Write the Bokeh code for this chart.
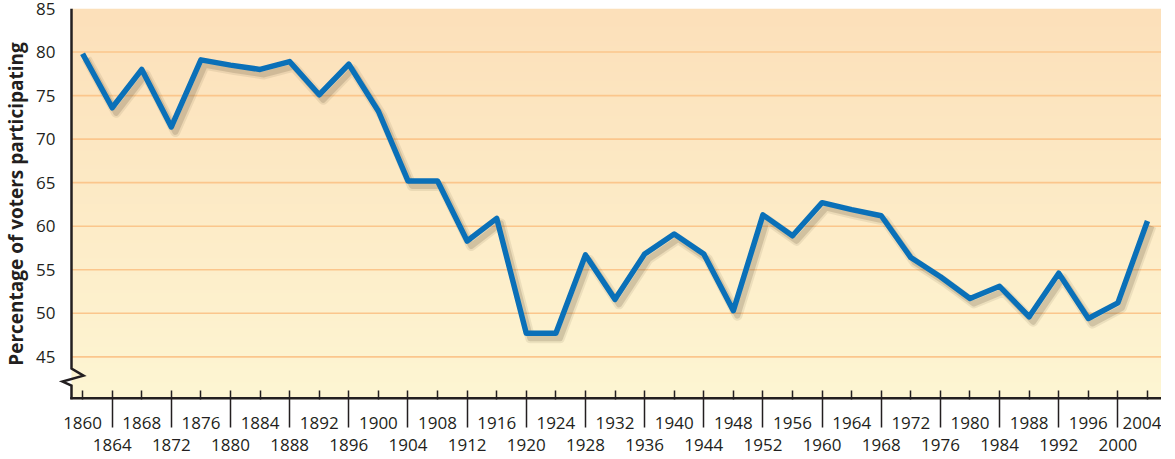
import numpy as np
from bokeh.plotting import figure
from bokeh.models import Range1d, FixedTicker, LinearAxis
from bokeh.embed import file_html
from bokeh.resources import INLINE

# ---- data ----
years = list(range(1860, 2005, 4))
turnout = [79.8, 73.6, 78.0, 71.4, 79.1, 78.5, 78.0, 78.9, 75.1, 78.6,
           73.2, 65.2, 65.2, 58.3, 60.9, 47.7, 47.7, 56.7, 51.6, 56.8,
           59.1, 56.8, 50.3, 61.3, 58.9, 62.7, 61.9, 61.2, 56.4, 54.2,
           51.7, 53.1, 49.6, 54.6, 49.4, 51.2, 60.6]
row1_years = list(range(1860, 2005, 8))
row2_years = list(range(1864, 2001, 8))
y_ticks = [45, 50, 55, 60, 65, 70, 75, 80, 85]
grid_ticks = [45, 50, 55, 60, 65, 70, 75, 80]
y_label = "Percentage of voters participating"

# ---- layout ----
LEFT, TOP, RIGHT, BOTTOM = 56, 8, 0, 44
FRAME_W, FRAME_H = 1103, 391
PX_PER_YEAR = 29.58 / 4.0
axis_x = 1858.5                       # where the drawn y-axis sits
x0 = axis_x - 13 / PX_PER_YEAR        # frame starts a little left of the axis
x1 = x0 + FRAME_W / PX_PER_YEAR
y0, y1 = 40.1, 85.0
xpp = (x1 - x0) / FRAME_W
ypp = (y1 - y0) / FRAME_H

FONT = "Open Sans"
TXT = "#231f20"
BLUE = "#0a70b8"
FS = "17px"

p = figure(frame_width=FRAME_W, frame_height=FRAME_H,
           x_range=Range1d(x0, x1), y_range=Range1d(y0, y1),
           output_backend="svg", toolbar_location=None,
           min_border_left=LEFT, min_border_top=TOP, min_border_bottom=BOTTOM,
           min_border_right=RIGHT)
p.outline_line_color = None
p.background_fill_color = "white"
p.border_fill_color = "white"

# gradient background (from the axis to the right edge)
n = 256
t = np.linspace(0, 1, n)[:, None]
top_c = np.array([252, 224, 186], dtype=float)
bot_c = np.array([254, 246, 211], dtype=float)
cols = bot_c + (top_c - bot_c) * t
img = np.empty((n, 2), dtype=np.uint32)
view = img.view(dtype=np.uint8).reshape((n, 2, 4))
view[:, :, 0] = cols[:, 0:1].astype(np.uint8)
view[:, :, 1] = cols[:, 1:2].astype(np.uint8)
view[:, :, 2] = cols[:, 2:3].astype(np.uint8)
view[:, :, 3] = 255
p.image_rgba(image=[img], x=axis_x, y=y0, dw=x1 - axis_x, dh=y1 - y0, level="image")

# grid lines (drawn from the axis rightwards)
p.xgrid.visible = False
p.ygrid.visible = False
p.segment(x0=[axis_x] * len(grid_ticks), y0=grid_ticks,
          x1=[x1] * len(grid_ticks), y1=grid_ticks,
          line_color="#fbc68c", line_width=1.6, level="underlay")

# shadow via offset ranges
p.extra_x_ranges = {"shx": Range1d(x0 - 4 * xpp, x1 - 4 * xpp)}
p.extra_y_ranges = {"shy": Range1d(y0 + 5 * ypp, y1 + 5 * ypp)}
p.line(years, turnout, x_range_name="shx", y_range_name="shy",
       line_color="#5a4a30", line_alpha=0.10, line_width=10, line_join="round")
p.line(years, turnout, x_range_name="shx", y_range_name="shy",
       line_color="#5a4a30", line_alpha=0.18, line_width=6, line_join="round")

# main line
p.line(years, turnout, line_color=BLUE, line_width=5.5, line_join="round",
       line_cap="butt")

# drawn y-axis line with a break zigzag near the bottom
brk = 43.65
p.line(x=[axis_x, axis_x, axis_x + 12 * xpp, axis_x - 9 * xpp, axis_x, axis_x],
       y=[y1, brk, brk - 7 * ypp, brk - 13 * ypp, brk - 17 * ypp, y0],
       line_color=TXT, line_width=2.5, line_join="miter")
# drawn x-axis line (half clipped by the frame edge -> 2.5px visible)
p.line(x=[axis_x - 1.25 * xpp, x1], y=[y0, y0], line_color=TXT, line_width=5)

# y axis (labels only)
ya = p.yaxis[0]
ya.ticker = FixedTicker(ticks=y_ticks)
ya.axis_label = y_label
ya.axis_label_text_font = FONT
ya.axis_label_text_font_style = "bold"
ya.axis_label_text_font_size = "19px"
ya.axis_label_text_color = TXT
ya.axis_label_standoff = 4
ya.major_label_text_font = FONT
ya.major_label_text_font_size = FS
ya.major_label_text_color = TXT
ya.major_label_standoff = 3
ya.major_tick_in = 0
ya.major_tick_out = 0
ya.major_tick_line_color = None
ya.minor_tick_line_color = None
ya.axis_line_color = None

# x axis row 1
xa = p.xaxis[0]
xa.ticker = FixedTicker(ticks=row1_years, minor_ticks=row2_years)
xa.major_tick_in = 9
xa.major_tick_out = 0
xa.minor_tick_in = 9
xa.minor_tick_out = 28
xa.major_tick_line_width = 1.5
xa.minor_tick_line_width = 1.5
xa.major_tick_line_color = TXT
xa.minor_tick_line_color = TXT
xa.axis_line_color = None
xa.major_label_text_font = FONT
xa.major_label_text_font_size = FS
xa.major_label_text_color = TXT
xa.major_label_standoff = -11

# x axis row 2
xb = LinearAxis(ticker=FixedTicker(ticks=row2_years))
xb.axis_line_color = None
xb.major_tick_line_color = None
xb.minor_tick_line_color = None
xb.major_tick_in = 0
xb.major_tick_out = 0
xb.major_label_text_font = FONT
xb.major_label_text_font_size = FS
xb.major_label_text_color = TXT
xb.major_label_standoff = 7
p.add_layout(xb, "below")

open("out.html", "w").write(file_html(p, INLINE))
